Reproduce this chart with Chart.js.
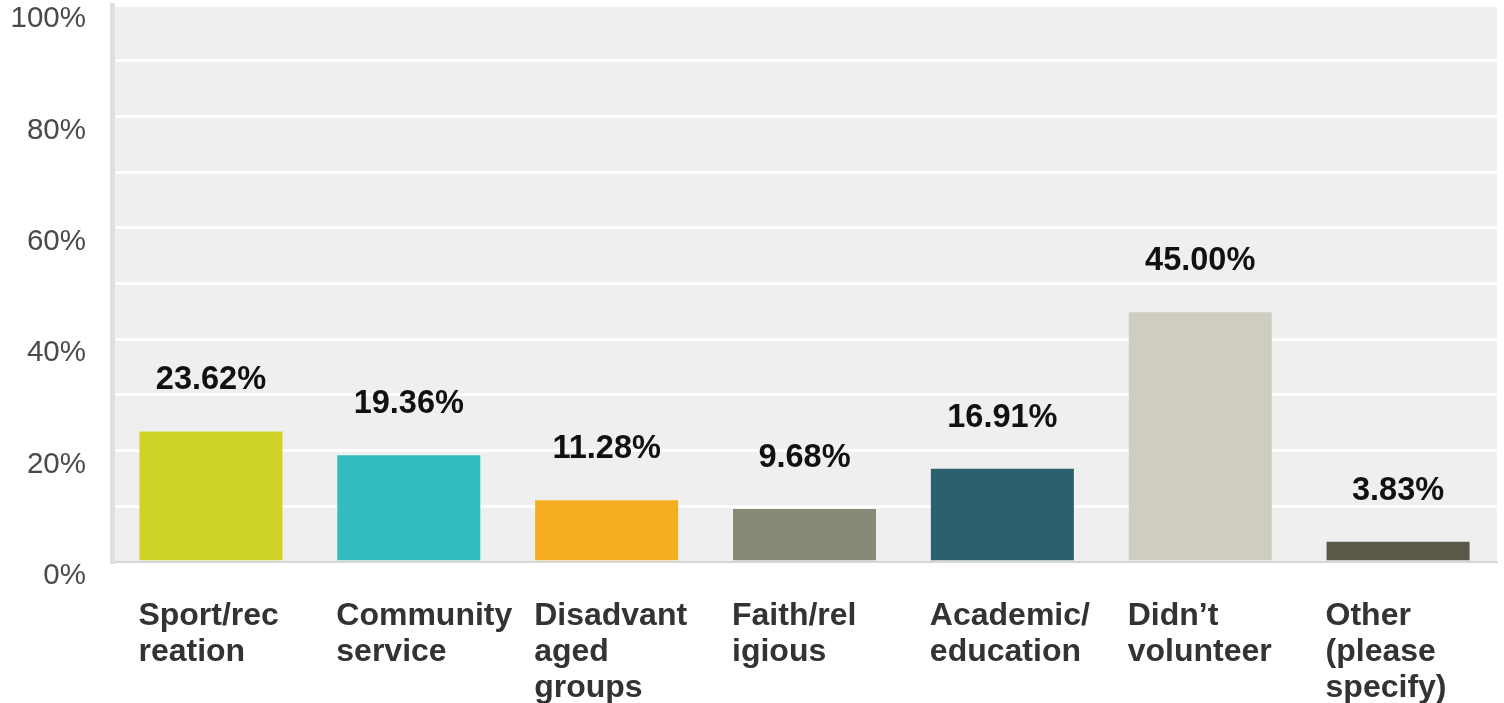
<!DOCTYPE html>
<html lang="en">
<head>
  <meta charset="UTF-8">
  <title>Volunteering</title>
  <script src="https://cdn.jsdelivr.net/npm/chart.js"></script>
  <style>
    body { margin: 0; background: white; }
    #wrap { width: 1504px; height: 703px; }
  </style>
</head>
<body>
  <div id="wrap"><canvas id="volChart" width="1504" height="703"></canvas></div>

  <script>
    const categories = [
      ['Sport/rec', 'reation'],
      ['Community', 'service'],
      ['Disadvant', 'aged', 'groups'],
      ['Faith/rel', 'igious'],
      ['Academic/', 'education'],
      ["Didn’t", 'volunteer'],
      ['Other', '(please', 'specify)']
    ];
    const percents = [23.62, 19.36, 11.28, 9.68, 16.91, 45.00, 3.83];
    const barColors = ['#cfd327', '#33bdbf', '#f5ae22', '#888a78', '#2e5f6c', '#cfcdbf', '#5a5849'];
    const yTickLabels = ['0%', '20%', '40%', '60%', '80%', '100%'];

    // grey plot background
    const plotBg = {
      id: 'plotBg',
      beforeDraw(chart) {
        const { ctx, chartArea: a } = chart;
        ctx.save();
        ctx.fillStyle = '#efefef';
        ctx.fillRect(a.left, a.top, a.right - a.left, a.bottom - a.top);
        ctx.restore();
      }
    };

    // value labels above each bar
    const valueLabels = {
      id: 'valueLabels',
      afterDatasetsDraw(chart) {
        const ctx = chart.ctx;
        const meta = chart.getDatasetMeta(0);
        ctx.save();
        ctx.font = 'bold 32.5px "Liberation Sans", Arial, sans-serif';
        ctx.fillStyle = '#111';
        ctx.textAlign = 'center';
        ctx.textBaseline = 'middle';
        meta.data.forEach((bar, i) => {
          ctx.fillText(percents[i].toFixed(2) + '%', bar.x, bar.y - 50);
        });
        ctx.restore();
      }
    };

    new Chart(document.getElementById('volChart'), {
      type: 'bar',
      data: {
        labels: categories,
        datasets: [{
          data: percents,
          backgroundColor: barColors,
          borderColor: 'rgba(255,255,255,0.35)',
          borderWidth: 1,
          barPercentage: 0.733,
          categoryPercentage: 1
        }]
      },
      options: {
        responsive: false,
        animation: false,
        layout: { padding: { top: 5, right: 7, left: 0, bottom: 0 } },
        plugins: { legend: { display: false }, tooltip: { enabled: false } },
        scales: {
          x: {
            grid: { display: false, drawTicks: false },
            border: { color: '#d6d6d6', width: 2 },
            ticks: {
              align: 'start',
              labelOffset: -72.5,
              padding: 36,
              color: '#333',
              font: { family: '"Liberation Sans", Arial, sans-serif', size: 32, weight: 'bold', lineHeight: 1.13 },
              maxRotation: 0,
              autoSkip: false
            },
            afterFit(s) { s.height = 141; s.paddingLeft = 0; s.paddingRight = 0; }
          },
          y: {
            min: 0,
            max: 100,
            grid: { color: '#ffffff', lineWidth: 3, drawTicks: false },
            border: { color: '#e0e0e0', width: 5 },
            ticks: {
              stepSize: 10,
              autoSkip: false,
              padding: 26,
              color: '#4a4a4a',
              font: { family: '"Liberation Sans", Arial, sans-serif', size: 29.5, lineHeight: 0.95 },
              callback: function (v) {
                const lbl = yTickLabels.find(t => parseInt(t) === v);
                return lbl ? ['', lbl] : '';
              }
            },
            afterFit(s) { s.width = 112; s.paddingTop = 0; s.paddingBottom = 0; }
          }
        }
      },
      plugins: [plotBg, valueLabels]
    });
  </script>
</body>
</html>
